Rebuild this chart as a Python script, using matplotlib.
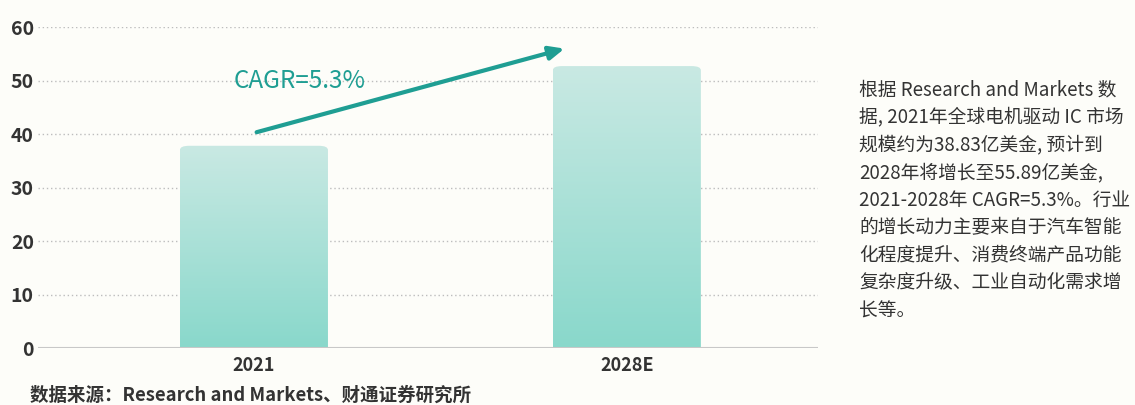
import numpy as np
import matplotlib.pyplot as plt
from matplotlib.patches import FancyBboxPatch
from matplotlib.colors import LinearSegmentedColormap

plt.rcParams['font.family'] = ['Noto Sans CJK SC', 'DejaVu Sans']

# data
years = ['2021', '2028E']
market_size = [37.8, 52.7]
cagr_label = 'CAGR=5.3%'
y_ticks = [0, 10, 20, 30, 40, 50, 60]

note_lines = [
    '根据 Research and Markets 数',
    '据, 2021年全球电机驱动 IC 市场',
    '规模约为38.83亿美金, 预计到',
    '2028年将增长至55.89亿美金,',
    '2021-2028年 CAGR=5.3%。行业',
    '的增长动力主要来自于汽车智能',
    '化程度提升、消费终端产品功能',
    '复杂度升级、工业自动化需求增',
    '长等。',
]
source = '数据来源：Research and Markets、财通证券研究所'

teal = '#1f9e93'
bg = '#fdfdf9'

fig = plt.figure(figsize=(11.35, 4.05), dpi=100, facecolor=bg)
ax = fig.add_axes([0.0335, 0.1407, 0.687, 0.7926], facecolor=bg)

x = np.arange(len(years))
bars = ax.bar(x, market_size, width=0.397, color='none', zorder=2)

ax.set_xlim(-0.579, 1.512)
ax.set_ylim(0, 60)

# gradient fill with rounded top corners
grad = np.linspace(0, 1, 256).reshape(-1, 1)
cmap = LinearSegmentedColormap.from_list('tealgrad', ['#89d8cb', '#c9e9e3'])
for b in bars:
    x0, w, h = b.get_x(), b.get_width(), b.get_height()
    patch = FancyBboxPatch((x0, -5), w, h + 5,
                           boxstyle='round,pad=0,rounding_size=0.025',
                           mutation_aspect=60 / 2.091 * 1.1,
                           facecolor='none', edgecolor='none', zorder=2)
    ax.add_patch(patch)
    im = ax.imshow(grad, extent=(x0, x0 + w, 0, h), origin='lower', cmap=cmap,
                   aspect='auto', zorder=2)
    im.set_clip_path(patch)

ax.set_xlim(-0.579, 1.512)
ax.set_ylim(0, 60)

for t in y_ticks[1:]:
    ax.axhline(t, color='#bdbdbd', lw=1, ls=(0, (1, 2)), zorder=1)
ax.axhline(0, color='#c8c8c8', lw=1.5, zorder=3)

for s in ax.spines.values():
    s.set_visible(False)
ax.set_yticks(y_ticks)
ax.set_yticklabels([str(t) for t in y_ticks], fontsize=14, fontweight='bold', color='#333333')
ax.set_xticks(x)
ax.set_xticklabels(years, fontsize=13, fontweight='bold', color='#333333')
ax.tick_params(length=0)
ax.tick_params(axis='y', pad=3)
ax.tick_params(axis='x', pad=6)

# CAGR arrow
ax.annotate('', xy=(0.84, 56.1), xytext=(0.0, 40.2),
            arrowprops=dict(arrowstyle='-|>,head_length=0.9,head_width=0.4',
                            color=teal, lw=3), zorder=4)
ax.text(0.123, 50.0, cagr_label, color=teal, fontsize=17.5, ha='center', va='center')

fig.text(0.757, 0.805, '\n'.join(note_lines), fontsize=13.5, color='#333333',
         va='top', ha='left', linespacing=1.415)
fig.text(0.026, 0.025, source, fontsize=13.3, fontweight='bold', color='#333333',
         ha='left', va='center')

fig.savefig('out.png', dpi=100, facecolor=bg)
